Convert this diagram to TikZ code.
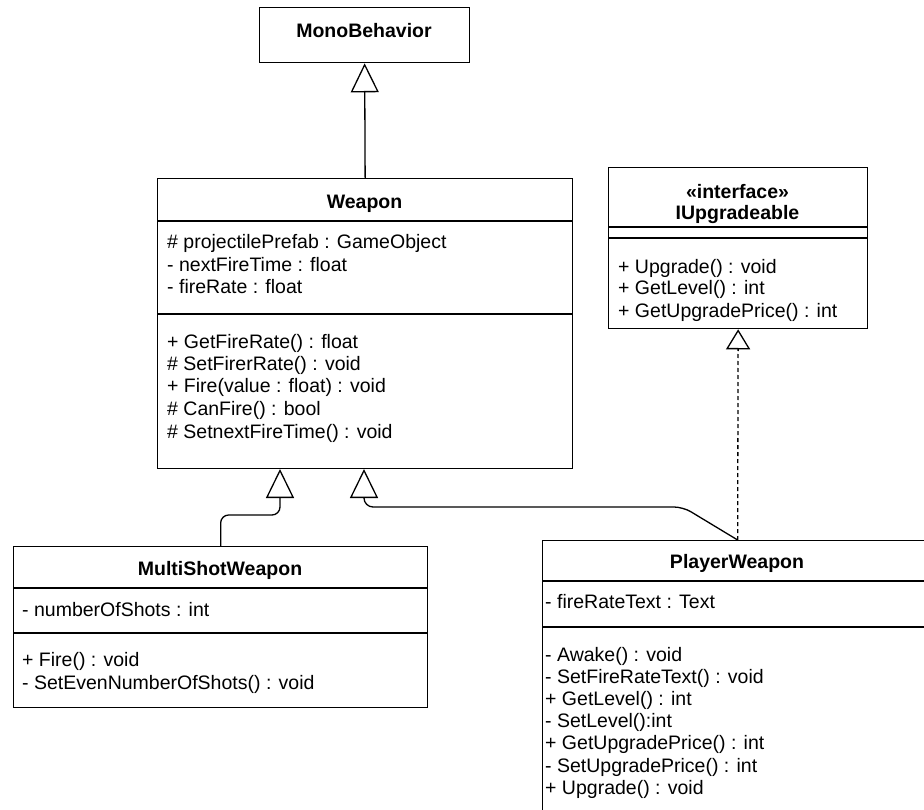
\documentclass[tikz,border=0pt]{standalone}
\usepackage{fontspec}
\setmainfont{Liberation Sans}
\usetikzlibrary{arrows.meta}
\begin{document}
\begin{tikzpicture}[x=1pt,y=-1pt,
  cls/.style={draw, line width=1.3pt, rectangle, inner sep=0pt, anchor=north west},
  divider/.style={line width=1.3pt},
  mem/.style={anchor=west, inner sep=0pt, yshift=-4pt, font=\fontsize{19.5}{22}\selectfont,
    text height=0.72em, text depth=0.21em},
  ttl/.style={inner sep=0pt, yshift=-4pt, font=\bfseries\fontsize{19.5}{22}\selectfont,
    text height=0.72em, text depth=0.21em},
  inherit/.style={line width=1.3pt,
    -{Triangle[open, length=29pt, width=28pt, line width=1.3pt]}},
  realize/.style={line width=1.3pt, dash pattern=on 4pt off 3pt,
    -{Triangle[open, length=20pt, width=24pt, line width=1.3pt]}}
]
\clip (0,0) rectangle (924,810);
\fill[white] (0,0) rectangle (924,810);

% MonoBehavior
\node[cls, minimum width=210pt, minimum height=55pt] (mono) at (259,7) {};
\node[ttl] (monot) at (364,31) {MonoBehavior};

% Weapon
\node[cls, minimum width=415pt, minimum height=290pt] (weapon) at (157,178) {};
\draw[divider] (157,221) -- (572,221);
\draw[divider] (157,314) -- (572,314);
\node[ttl] (weapont) at (364.5,202) {Weapon};
\node[mem] (wa1) at (167,242) {\# projectilePrefab : GameObject};
\node[mem] (wa2) at (167,265) {- nextFireTime : float};
\node[mem] (wa3) at (167,287) {- fireRate : float};
\node[mem] (wm1) at (167,342) {+ GetFireRate() : float};
\node[mem] (wm2) at (167,364) {\# SetFirerRate() : void};
\node[mem] (wm3) at (167,386) {+ Fire(value : float) : void};
\node[mem] (wm4) at (167,409) {\# CanFire() : bool};
\node[mem] (wm5) at (167,432) {\# SetnextFireTime() : void};

% IUpgradeable
\node[cls, minimum width=259pt, minimum height=161pt] (iup) at (608,167) {};
\draw[divider] (608,227) -- (867,227);
\draw[divider] (608,238) -- (867,238);
\node[ttl] (iups) at (737.5,192) {«interface»};
\node[ttl] (iupt) at (737.5,213) {IUpgradeable};
\node[mem] (im1) at (618,267) {+ Upgrade() : void};
\node[mem] (im2) at (618,288) {+ GetLevel() : int};
\node[mem] (im3) at (618,311) {+ GetUpgradePrice() : int};

% MultiShotWeapon
\node[cls, minimum width=414pt, minimum height=161pt] (ms) at (13,546) {};
\draw[divider] (13,588) -- (427,588);
\draw[divider] (13,633) -- (427,633);
\node[ttl] (mst) at (220,569) {MultiShotWeapon};
\node[mem] (ma1) at (22,610) {- numberOfShots : int};
\node[mem] (mm1) at (22,660) {+ Fire() : void};
\node[mem] (mm2) at (22,683) {- SetEvenNumberOfShots() : void};

% PlayerWeapon
\node[cls, minimum width=390pt, minimum height=290pt] (pw) at (542,540) {};
\draw[divider] (542,581) -- (932,581);
\draw[divider] (542,627) -- (932,627);
\node[ttl] (pwt) at (737,562) {PlayerWeapon};
\node[mem] (pa1) at (545,602) {- fireRateText : Text};
\node[mem] (pm1) at (545,655) {- Awake() : void};
\node[mem] (pm2) at (545,677) {- SetFireRateText() : void};
\node[mem] (pm3) at (545,699) {+ GetLevel() : int};
\node[mem] (pm4) at (545,721) {- SetLevel():int};
\node[mem] (pm5) at (545,743) {+ GetUpgradePrice() : int};
\node[mem] (pm6) at (545,766) {- SetUpgradePrice() : int};
\node[mem] (pm7) at (545,788) {+ Upgrade() : void};

% attachment points on the bottom of Weapon
\coordinate (wfromms) at (280,469);
\coordinate (wfrompw) at (364,469);

% connectors
\draw[inherit] (weapon.north) -- (mono.south);
\draw[inherit, rounded corners=8pt] (ms.north) |- (280,515) -- (wfromms);
\draw[inherit, rounded corners=9pt] (pw.north) -- (683,507) -- (364,507) -- (wfrompw);
\draw[realize] (pw.north) -- (iup.south);
\end{tikzpicture}
\end{document}
